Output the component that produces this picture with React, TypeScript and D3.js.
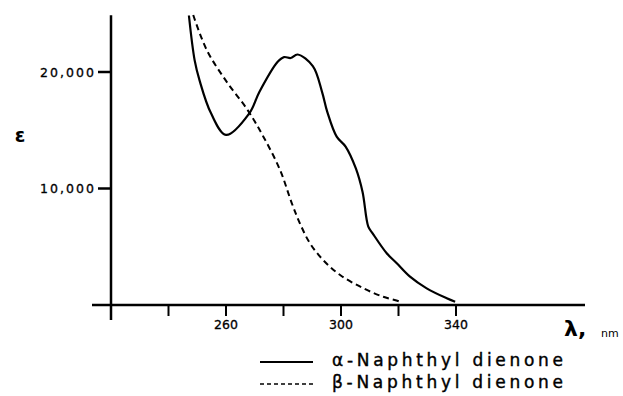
import React, { useEffect, useRef } from "react";
import * as d3 from "d3";

// alpha-naphthyl dienone (solid)
const alphaWavelength = [247.1, 249.1, 250.8, 254.8, 260.0, 268.1, 271.6, 277.9, 280.2, 282.5, 284.9, 290.2, 293.4, 295.2, 298.5, 301.6, 305.2, 307.5, 309.5, 311.0, 315.9, 319.4, 324.0, 329.8, 336.8, 339.7];
const alphaEpsilon = [24850, 21000, 19280, 16450, 14600, 16450, 18280, 20850, 21280, 21200, 21500, 20500, 18300, 16600, 14450, 13600, 11700, 9700, 6720, 6150, 4440, 3580, 2430, 1430, 575, 280];

// beta-naphthyl dienone (dashed)
const betaWavelength = [248.6, 253.3, 260.2, 267.2, 273.0, 278.8, 282.9, 285.7, 289.2, 293.8, 299.7, 307.8, 314.7, 320.5, 321.0];
const betaEpsilon = [24890, 21890, 19170, 16850, 14450, 11590, 8730, 7010, 5300, 3860, 2575, 1430, 710, 280, 170];

const xTicks = [220, 240, 260, 280, 300, 320, 340];
const xTickLabels = ["", "", "260", "", "300", "", "340"];
const yTicks = [10000, 20000];
const yTickLabels = ["10,000", "20,000"];
const legendLabels = ["\u03b1-Naphthyl dienone", "\u03b2-Naphthyl dienone"];

const W = 623;
const H = 396;
const FONT = "'DejaVu Sans', sans-serif";

const App = () => {
  const svgRef = useRef<SVGSVGElement>(null);

  useEffect(() => {
    const svg = d3.select(svgRef.current);
    svg.selectAll("*").remove();

    const x = d3.scaleLinear().domain([220, 340]).range([111, 456]);
    const y = d3.scaleLinear().domain([0, 20000]).range([305, 72]);

    // axes
    svg.append("line")
      .attr("x1", x(220)).attr("x2", x(220))
      .attr("y1", y(24880)).attr("y2", 320)
      .attr("stroke", "#000").attr("stroke-width", 2.5);
    svg.append("line")
      .attr("x1", 92).attr("x2", 585)
      .attr("y1", y(0)).attr("y2", y(0))
      .attr("stroke", "#000").attr("stroke-width", 2.5);

    // x ticks
    xTicks.forEach((t, i) => {
      svg.append("line")
        .attr("x1", x(t)).attr("x2", x(t))
        .attr("y1", y(0)).attr("y2", y(0) + 11)
        .attr("stroke", "#000").attr("stroke-width", 2);
      if (xTickLabels[i]) {
        svg.append("text")
          .attr("x", x(t)).attr("y", 329)
          .attr("text-anchor", "middle")
          .style("font-family", FONT).style("font-size", "12.5px")
          .attr("stroke", "#000").attr("stroke-width", 0.3)
          .text(xTickLabels[i]);
      }
    });

    // y ticks
    yTicks.forEach((t, i) => {
      svg.append("line")
        .attr("x1", x(220) - 13).attr("x2", x(220))
        .attr("y1", y(t)).attr("y2", y(t))
        .attr("stroke", "#000").attr("stroke-width", 2.5);
      svg.append("text")
        .attr("x", 40).attr("y", y(t)).attr("dy", "0.36em")
        .attr("textLength", 54).attr("lengthAdjust", "spacing")
        .style("font-family", FONT).style("font-size", "12.5px")
        .attr("stroke", "#000").attr("stroke-width", 0.3)
        .text(yTickLabels[i]);
    });

    // axis titles
    svg.append("text")
      .attr("x", 20).attr("y", 142).attr("text-anchor", "middle")
      .style("font-family", FONT).style("font-size", "19px").style("font-weight", "bold")
      .text("\u03b5");
    svg.append("text")
      .attr("x", 564).attr("y", 336)
      .style("font-family", FONT).style("font-size", "22px").style("font-weight", "bold")
      .text("\u03bb,");
    svg.append("text")
      .attr("x", 601).attr("y", 337)
      .style("font-family", FONT).style("font-size", "11px")
      .text("nm");

    const line = d3.line<[number, number]>()
      .x(d => x(d[0]))
      .y(d => y(d[1]))
      .curve(d3.curveCatmullRom.alpha(0.5));

    const alphaData = alphaWavelength.map((w, i) => [w, alphaEpsilon[i]] as [number, number]);
    const betaData = betaWavelength.map((w, i) => [w, betaEpsilon[i]] as [number, number]);

    svg.append("path")
      .attr("d", line(alphaData))
      .attr("fill", "none").attr("stroke", "#000").attr("stroke-width", 2.2);
    svg.append("path")
      .attr("d", line(betaData))
      .attr("fill", "none").attr("stroke", "#000").attr("stroke-width", 2)
      .attr("stroke-dasharray", "6,4");

    // legend
    const legendY = [362, 384];
    const dashes = [null, "4,3"];
    legendLabels.forEach((lab, i) => {
      const l = svg.append("line")
        .attr("x1", 260).attr("x2", 313)
        .attr("y1", legendY[i]).attr("y2", legendY[i])
        .attr("stroke", "#000").attr("stroke-width", i === 0 ? 2 : 1.6);
      if (dashes[i]) l.attr("stroke-dasharray", dashes[i] as string);
      svg.append("text")
        .attr("x", 332).attr("y", legendY[i] + 4)
        .attr("textLength", 231).attr("lengthAdjust", "spacing")
        .style("font-family", FONT).style("font-size", "17px")
        .attr("stroke", "#000").attr("stroke-width", 0.4)
        .text(lab);
    });
  }, []);

  return (
    <svg
      ref={svgRef}
      width={W}
      height={H}
      style={{ position: "absolute", left: 0, top: 0, background: "#fff" }}
    />
  );
};

export default App;
